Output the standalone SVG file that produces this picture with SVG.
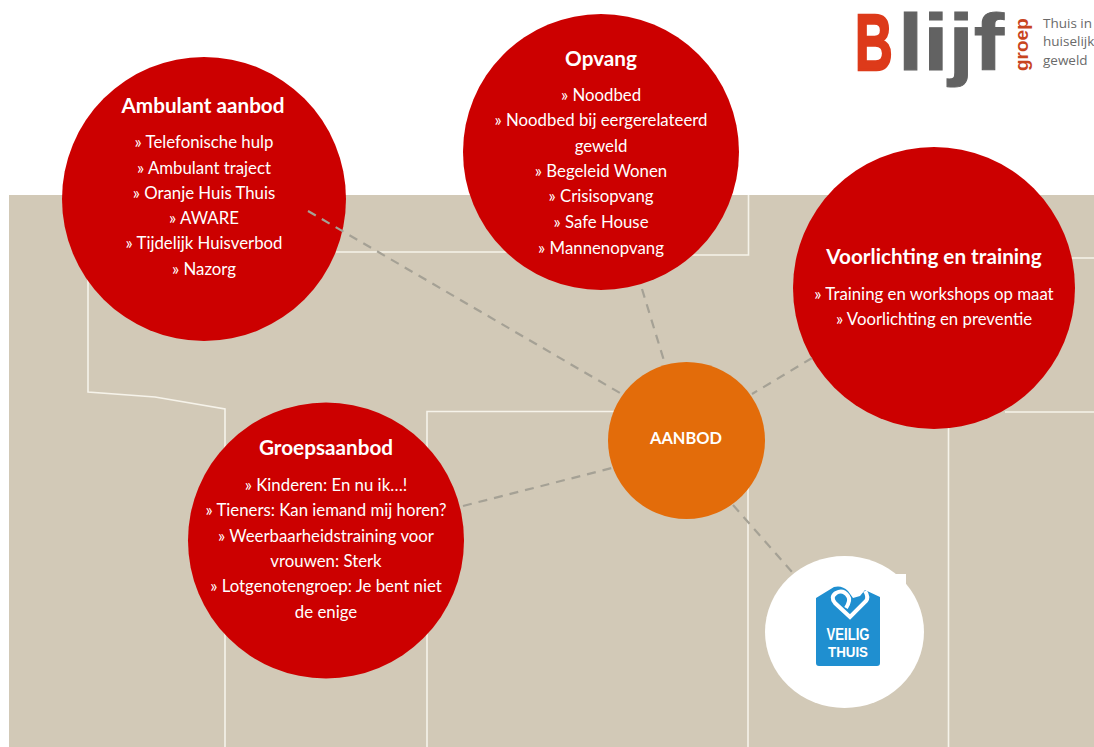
<svg xmlns="http://www.w3.org/2000/svg" width="1094" height="747" viewBox="0 0 1094 747">
<style>
.t{font-family:Lato,"Carlito","Liberation Sans",sans-serif;fill:#fff;text-anchor:middle;font-size:16.8px}
.h{font-size:20.7px;font-weight:700}
.b{fill:#cc0000}
.wl{fill:none;stroke:#f6f3ea;stroke-width:1.6}
.d{fill:none;stroke:#a5a195;stroke-width:2.2;stroke-dasharray:9 7}
.tag{font-family:"Open Sans","Liberation Sans",sans-serif;font-size:13.5px;fill:#6a6a6a}
.lg{font-family:"Liberation Sans",sans-serif;font-weight:700}
</style>
<rect width="1094" height="747" fill="#fff"/>
<rect x="9" y="195" width="1085" height="552" fill="#d2c9b7"/>
<g id="borders">
<path class="wl" d="M88 270V392L155 397L225 409V747"/>
<path class="wl" d="M336 252H510"/>
<path class="wl" d="M690 255H748.500V195"/>
<path class="wl" d="M1060 258H1094"/>
<path class="wl" d="M427 747V411.500H625"/>
<path class="wl" d="M748 488V747"/>
<path class="wl" d="M1005 412H1094"/>
<path class="wl" d="M948.500 425V747"/>
</g>
<g id="ambulant">
<circle class="b" cx="204" cy="199" r="142"/>
<text class="t h" x="203" y="113">Ambulant aanbod</text>
<text class="t" x="204" y="148">» Telefonische hulp</text>
<text class="t" x="204" y="174">» Ambulant traject</text>
<text class="t" x="204" y="199">» Oranje Huis Thuis</text>
<text class="t" x="204" y="224">» AWARE</text>
<text class="t" x="204" y="249">» Tijdelijk Huisverbod</text>
<text class="t" x="204" y="275">» Nazorg</text>
</g>
<g id="opvang">
<circle class="b" cx="601" cy="152" r="138"/>
<text class="t h" x="601" y="65.500">Opvang</text>
<text class="t" x="601" y="100.500">» Noodbed</text>
<text class="t" x="601" y="125.500">» Noodbed bij eergerelateerd</text>
<text class="t" x="601" y="151.500">geweld</text>
<text class="t" x="601" y="176.500">» Begeleid Wonen</text>
<text class="t" x="601" y="201.500">» Crisisopvang</text>
<text class="t" x="601" y="227.500">» Safe House</text>
<text class="t" x="601" y="253.500">» Mannenopvang</text>
</g>
<g id="voorlichting">
<circle class="b" cx="934" cy="288" r="141"/>
<text class="t h" x="934" y="263.500">Voorlichting en training</text>
<text class="t" x="934" y="299.500">» Training en workshops op maat</text>
<text class="t" x="934" y="324.500">» Voorlichting en preventie</text>
</g>
<g id="groepsaanbod">
<circle class="b" cx="326" cy="540.500" r="138"/>
<text class="t h" x="326" y="454.500">Groepsaanbod</text>
<text class="t" x="326" y="490.500">» Kinderen: En nu ik…!</text>
<text class="t" x="326" y="515.500">» Tieners: Kan iemand mij horen?</text>
<text class="t" x="326" y="541.500">» Weerbaarheidstraining voor</text>
<text class="t" x="326" y="566.500">vrouwen: Sterk</text>
<text class="t" x="326" y="591.500">» Lotgenotengroep: Je bent niet</text>
<text class="t" x="326" y="617.500">de enige</text>
</g>
<g id="aanbod">
<circle cx="686.500" cy="440.500" r="78.500" fill="#e36c0a"/>
<text class="t" x="686" y="444" style="font-weight:700;font-size:16.4px">AANBOD</text>
</g>
<g id="veilig-thuis">
<ellipse cx="844.500" cy="632" rx="79.500" ry="76" fill="#fff"/>
<path d="M890 574H906V592L898 584Z" fill="#fff"/>
<path d="M816 598L834 587Q842 585 848 591L853 598L860 596L865 590L880 597V663Q880 666 877 666H819Q816 666 816 663Z" fill="#1f8fd0"/>
<path d="M846 608Q851 600 848 596Q843 589 836 593Q830 597 835 603L850 617L866 601Q869 597 865 591" fill="none" stroke="#fff" stroke-width="4"/>
<text class="lg" x="848" y="640" text-anchor="middle" textLength="43" lengthAdjust="spacingAndGlyphs" style="font-size:16px;fill:#fff">VEILIG</text>
<text class="lg" x="848" y="656.500" text-anchor="middle" textLength="40" lengthAdjust="spacingAndGlyphs" style="font-size:15px;fill:#fff">THUIS</text>
</g>
<g id="logo">
<text class="lg" transform="translate(855 70) scale(.66 1)" style="font-size:79px;fill:#dd3a1a;stroke:#dd3a1a;stroke-width:2.500">B</text>
<text class="lg" transform="translate(898 70) scale(1.15 1)" style="font-size:79px;fill:#626262;stroke:#626262;stroke-width:1">lijf</text>
<text class="lg" transform="translate(1028 71) rotate(-90)" style="font-size:19px;fill:#c8451f">groep</text>
<text class="tag" x="1043" y="28">Thuis in</text>
<text class="tag" x="1043" y="46">huiselijk</text>
<text class="tag" x="1043" y="65">geweld</text>
</g>
<g id="connectors">
<path class="d" d="M308 211L620 393"/>
<path class="d" d="M642 289L665 364"/>
<path class="d" d="M812 358L752 394"/>
<path class="d" d="M463 506L612 468"/>
<path class="d" d="M733 505L792 572"/>
</g>
</svg>
